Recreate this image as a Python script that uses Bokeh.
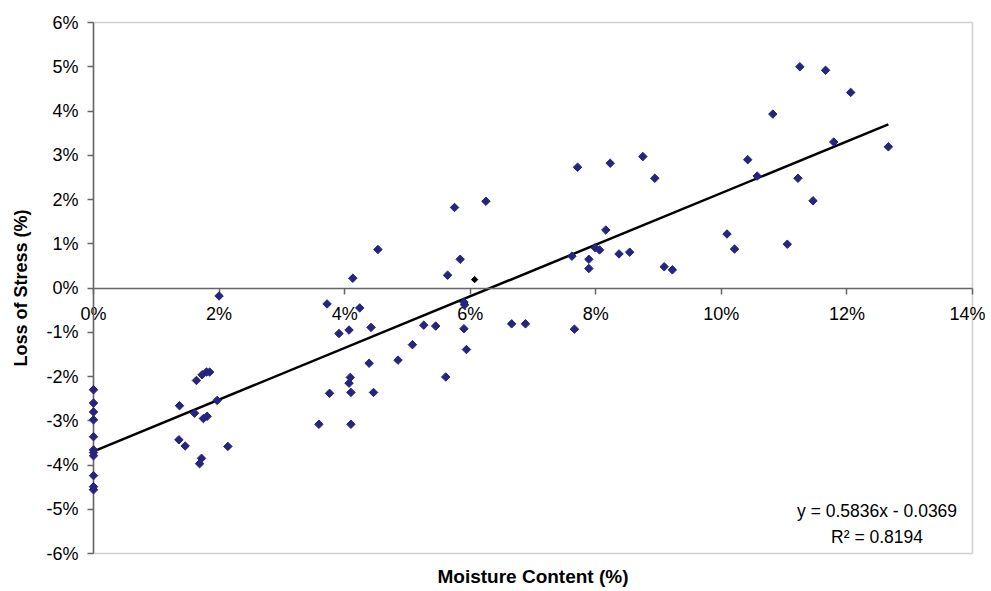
import math
from bokeh.plotting import figure
from bokeh.models import ColumnDataSource, Label, FixedTicker, BoxAnnotation
from bokeh.embed import file_html
from bokeh.resources import INLINE

# ---- data (percent units) ----
moisture_pct = [0, 0, 0, 0, 0, 0, 0, 0, 0, 0, 0,
                2.00, 3.72, 1.37, 1.64, 1.73, 1.80, 1.85, 1.97, 1.61, 1.75, 1.81,
                1.36, 1.46, 2.14, 1.72, 1.69, 3.59, 3.76,
                5.75, 6.25, 4.53, 5.84, 4.13, 5.64, 4.24, 5.90, 5.91, 3.91, 4.07,
                4.42, 5.26, 5.45, 5.90, 6.66, 6.88, 5.08, 5.94, 4.39, 4.85, 5.61,
                4.09, 4.07, 4.10, 4.46, 4.10,
                7.71, 8.23, 8.75, 8.94, 10.42, 10.57, 8.16, 10.09, 10.21, 7.99, 8.06,
                7.62, 7.89, 7.89, 8.37, 8.54, 9.09, 9.22, 7.66,
                11.25, 11.66, 12.06, 10.82, 11.79, 12.66, 11.22, 11.46, 11.05]
stress_loss_pct = [-2.30, -2.60, -2.80, -2.98, -3.36, -3.66, -3.72, -3.79, -4.24, -4.49, -4.56,
                   -0.18, -0.36, -2.66, -2.09, -1.96, -1.90, -1.90, -2.54, -2.83, -2.95, -2.90,
                   -3.43, -3.57, -3.58, -3.85, -3.97, -3.08, -2.38,
                   1.82, 1.96, 0.87, 0.65, 0.22, 0.29, -0.45, -0.32, -0.38, -1.03, -0.95,
                   -0.89, -0.84, -0.86, -0.92, -0.81, -0.81, -1.28, -1.39, -1.70, -1.63, -2.01,
                   -2.02, -2.15, -2.36, -2.36, -3.08,
                   2.73, 2.82, 2.97, 2.48, 2.90, 2.53, 1.31, 1.22, 0.88, 0.91, 0.86,
                   0.72, 0.65, 0.44, 0.77, 0.81, 0.48, 0.41, -0.93,
                   5.00, 4.92, 4.42, 3.93, 3.30, 3.19, 2.48, 1.97, 0.99]
highlight_moisture_pct = [6.07]
highlight_loss_pct = [0.19]

trend_slope = 0.5836
trend_intercept = -0.0369
equation_text = "y = 0.5836x - 0.0369"
r2_text = "R\u00b2 = 0.8194"
x_title = "Moisture Content (%)"
y_title = "Loss of Stress (%)"

x_ticks_pct = [0, 2, 4, 6, 8, 10, 12, 14]
x_tick_labels = ["0%", "2%", "4%", "6%", "8%", "10%", "12%", "14%"]
y_ticks_pct = [-6, -5, -4, -3, -2, -1, 0, 1, 2, 3, 4, 5, 6]
y_tick_labels = ["-6%", "-5%", "-4%", "-3%", "-2%", "-1%", "0%", "1%", "2%", "3%", "4%", "5%", "6%"]

FONT = "Liberation Sans"
AXIS_COLOR = "#666666"
POINT_COLOR = "#27247f"

# ---- layout (pixels) ----
W, H = 985, 589
PLOT_L, PLOT_R = 93, 972   # plot box edges (canvas px)
PLOT_T, PLOT_B = 22, 553
X0, X1 = x_ticks_pct[0] / 100, x_ticks_pct[-1] / 100
Y0, Y1 = y_ticks_pct[0] / 100, y_ticks_pct[-1] / 100
kx = (X1 - X0) / (PLOT_R - PLOT_L)
ky = (Y1 - Y0) / (PLOT_B - PLOT_T)
x_range = (X0 - PLOT_L * kx, X1 + (W - PLOT_R) * kx)
y_range = (Y0 - (H - PLOT_B) * ky, Y1 + PLOT_T * ky)

p = figure(width=W, height=H, x_range=x_range, y_range=y_range,
           output_backend="svg", toolbar_location=None,
           min_border_left=0, min_border_right=0, min_border_top=0, min_border_bottom=0)
p.background_fill_color = "white"
p.border_fill_color = "white"
p.outline_line_color = None
p.xgrid.visible = False
p.ygrid.visible = False

# plot box
p.add_layout(BoxAnnotation(left=X0, right=X1, bottom=Y0, top=Y1, fill_color=None, fill_alpha=0,
                           line_color=AXIS_COLOR, line_width=1.5, level="underlay"))

# y axis at x = 0
ya = p.yaxis[0]
ya.fixed_location = X0
ya.bounds = (Y0, Y1)
ya.ticker = FixedTicker(ticks=[v / 100 for v in y_ticks_pct])
ya.major_label_overrides = {v / 100: lab for v, lab in zip(y_ticks_pct, y_tick_labels)}
ya.major_label_text_font = FONT
ya.major_label_text_font_size = "18px"
ya.major_label_text_color = "black"
ya.major_label_standoff = 9
ya.major_tick_out = 6
ya.major_tick_in = 0
ya.minor_tick_line_color = None
ya.major_tick_line_color = AXIS_COLOR
ya.major_tick_line_width = 1.5
ya.axis_line_color = AXIS_COLOR
ya.axis_line_width = 1.5
ya.axis_label = y_title
ya.axis_label_text_font = FONT
ya.axis_label_text_font_style = "bold"
ya.axis_label_text_font_size = "18px"
ya.axis_label_text_color = "black"
ya.axis_label_standoff = 12

# x axis crossing at y = 0
xa = p.xaxis[0]
xa.fixed_location = 0
xa.bounds = (X0, X1)
xa.ticker = FixedTicker(ticks=[v / 100 for v in x_ticks_pct])
xa.major_label_overrides = {v / 100: lab for v, lab in zip(x_ticks_pct, x_tick_labels)}
xa.major_label_text_font = FONT
xa.major_label_text_font_size = "18px"
xa.major_label_text_color = "black"
xa.major_label_standoff = 10
xa.major_tick_out = 6
xa.major_tick_in = 0
xa.minor_tick_line_color = None
xa.major_tick_line_color = AXIS_COLOR
xa.major_tick_line_width = 1.5
xa.axis_line_color = AXIS_COLOR
xa.axis_line_width = 1.5

# x-axis title, centred under the plot box
p.add_layout(Label(x=(X0 + X1) / 2, y=Y0, y_offset=-23, text=x_title,
                   text_align="center", text_baseline="middle",
                   text_font=FONT, text_font_style="bold", text_font_size="19px", text_color="black"))

# trend line
tx = [0, max(moisture_pct) / 100]
ty = [trend_slope * v + trend_intercept for v in tx]
p.line(tx, ty, line_color="black", line_width=2.5)

# points
src = ColumnDataSource(dict(x=[v / 100 for v in moisture_pct], y=[v / 100 for v in stress_loss_pct]))
p.scatter("x", "y", source=src, marker="square", angle=math.pi / 4, size=6,
          fill_color=POINT_COLOR, line_color=POINT_COLOR, level="overlay")
hsrc = ColumnDataSource(dict(x=[v / 100 for v in highlight_moisture_pct], y=[v / 100 for v in highlight_loss_pct]))
p.scatter("x", "y", source=hsrc, marker="square", angle=math.pi / 4, size=4.5,
          fill_color="black", line_color="black", level="overlay")

# equation
p.add_layout(Label(x=0.1248, y=-0.0503, text=equation_text, text_align="center", text_baseline="middle",
                   text_font=FONT, text_font_size="17.5px", text_color="black"))
p.add_layout(Label(x=0.1248, y=-0.0562, text=r2_text, text_align="center", text_baseline="middle",
                   text_font=FONT, text_font_size="17.5px", text_color="black"))

open("out.html", "w").write(file_html(p, INLINE))
